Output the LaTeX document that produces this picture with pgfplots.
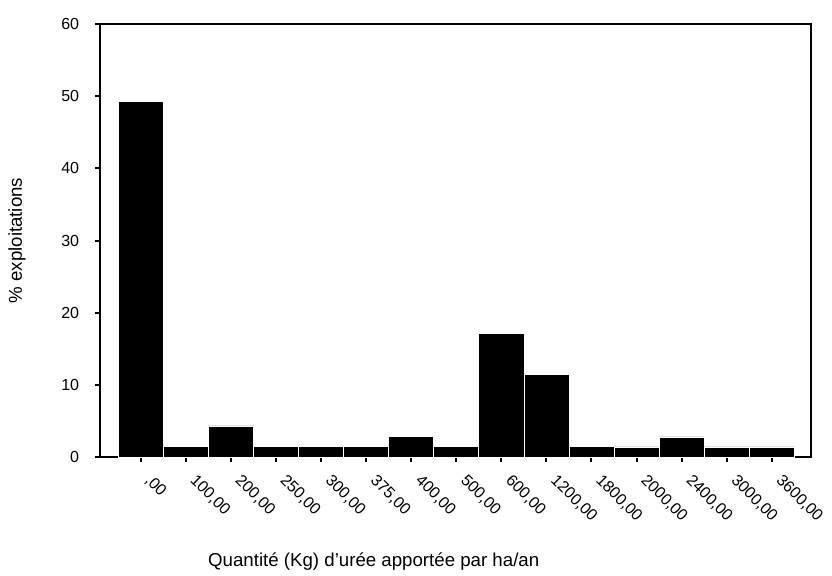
\documentclass[border=0pt]{standalone}
\usepackage{fontspec}
\setmainfont{Liberation Sans}
\usepackage{pgfplots}
\pgfplotsset{compat=1.18}
\begin{document}
\begin{tikzpicture}
\begin{axis}[
  scale only axis,
  width=426.6pt, height=259.8pt,
  xmin=-0.9, xmax=14.87,
  ymin=0, ymax=60,
  ytick={0,10,...,60},
  xtick={0,...,14},
  xticklabels={{,00},{100,00},{200,00},{250,00},{300,00},{375,00},{400,00},{500,00},{600,00},{1200,00},{1800,00},{2000,00},{2400,00},{3000,00},{3600,00}},
  tick align=outside, tick pos=left,
  major tick length=3pt,
  tick style={black, line width=1.2pt},
  axis line style={line width=1.1pt},
  /pgf/number format/assume math mode=true,
  ticklabel style={font=\fontsize{9.6}{11}\selectfont},
  xticklabel style={rotate=-45, anchor=north west, inner sep=1pt, xshift=8.6pt, yshift=1.4pt},
  yticklabel style={xshift=-6pt},
  xlabel={Quantité (Kg) d'urée apportée par ha/an},
  ylabel={\% exploitations},
  label style={font=\fontsize{11.2}{13}\selectfont},
  xlabel style={at={(axis description cs:0.385,-0.252)}, anchor=base},
  ylabel style={at={(axis description cs:-0.096,0.5)}, anchor=south, rotate=0},
]
\addplot[ybar, bar width=1, fill=black, draw=white, line width=0.3pt] coordinates {
  (0,49.3) (1,1.5) (2,4.3) (3,1.5) (4,1.5) (5,1.5) (6,2.9) (7,1.5)
  (8,17.1) (9,11.5) (10,1.5) (11,1.4) (12,2.8) (13,1.4) (14,1.4)
};
\coordinate (bl) at (axis description cs:-0.1406,-0.2679);
\coordinate (tr) at (axis description cs:1.0295,1.0554);
\end{axis}
\path (bl) rectangle (tr);
\end{tikzpicture}
\end{document}
